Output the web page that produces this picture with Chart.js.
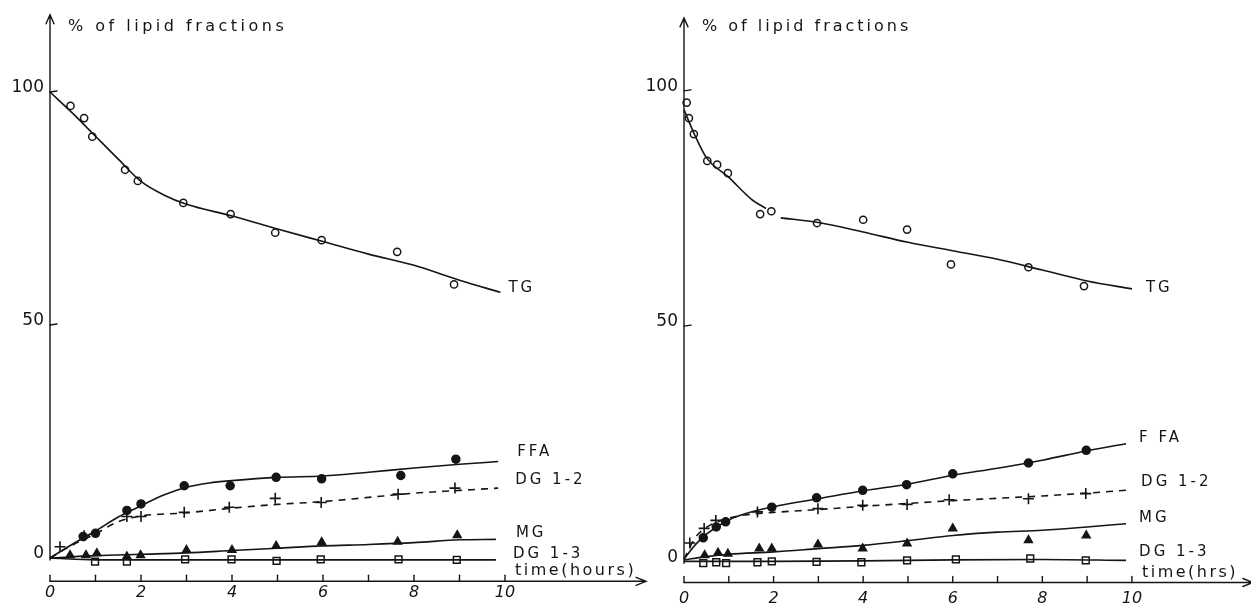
<!DOCTYPE html>
<html>
<head>
<meta charset="utf-8">
<script src="https://cdn.jsdelivr.net/npm/chart.js@4/dist/chart.umd.min.js"></script>
<style>
  html, body { margin:0; padding:0; background:#fff; }
  body { width:1251px; height:608px; position:relative; overflow:hidden; }
  canvas { position:absolute; top:0; }
  #cA { left:0; }
  #cB { left:620px; }
</style>
</head>
<body>
<canvas id="cA" width="660" height="608"></canvas>
<canvas id="cB" width="631" height="608"></canvas>
<script>
// ---------- axis ticks / labels ----------
const HOUR_TICKS  = [0,1,2,3,4,5,6,7,8,9,10];
const HOUR_LABELS = [0,2,4,6,8,10];
const PCT_TICKS   = [0,50,100];

// ---------- LEFT panel (time in hours) ----------
const A_TG_X  = [0.45,0.75,0.93,1.65,1.93,2.93,3.97,4.95,5.97,7.63,8.88];
const A_TG_Y  = [97.0,94.4,90.4,83.3,80.9,76.2,73.8,69.8,68.2,65.7,58.7];
const A_TGc_X = [0,0.5,1,1.5,2,2.5,3,4,5,6,7,8,9,9.9];
const A_TGc_Y = [100,95.4,90.5,85.6,80.8,77.9,75.9,73.4,70.6,67.9,65.2,62.8,59.6,57.0];

const A_FFA_X  = [0.73,1.0,1.69,2.0,2.95,3.96,4.97,5.97,7.71,8.92];
const A_FFA_Y  = [4.6,5.3,10.2,11.6,15.5,15.5,17.3,17.0,17.7,21.2];
const A_FFAc_X = [0,0.5,1,1.5,2,2.5,3,3.5,4,5,6,7,8,9,9.85];
const A_FFAc_Y = [0,3.0,5.8,8.8,11.2,13.5,15.2,16.1,16.6,17.3,17.6,18.4,19.3,20.1,20.7];

const A_D12_X  = [0.22,0.75,1.69,2.0,2.95,3.94,4.95,5.96,7.65,8.9];
const A_D12_Y  = [2.4,4.8,8.9,8.9,9.8,10.9,12.8,11.9,13.7,15.0];
const A_D12c_X = [0,0.5,1,1.5,2,3,4,5,6,7,8,9,9.85];
const A_D12c_Y = [0,2.8,5.2,7.8,9.0,9.7,10.7,11.5,12.1,13.0,13.9,14.5,15.0];

const A_MG_X  = [0.44,0.79,1.03,1.69,1.99,3.0,4.0,4.97,5.97,7.64,8.95];
const A_MG_Y  = [0.6,0.6,1.0,0.3,0.6,1.7,1.7,2.6,3.4,3.5,4.9];
const A_MGc_X = [0,1,2,3,4,5,6,7,8,9,9.8];
const A_MGc_Y = [0,0.5,0.8,1.1,1.6,2.1,2.6,2.9,3.3,3.9,4.0];

const A_D13_X  = [0.99,1.69,2.97,3.99,4.98,5.95,7.66,8.94];
const A_D13_Y  = [-0.8,-0.8,-0.3,-0.3,-0.6,-0.3,-0.3,-0.4];
const A_D13c_X = [0,1,2,4,6,8,9.8];
const A_D13c_Y = [0,-0.4,-0.4,-0.4,-0.4,-0.4,-0.4];

// ---------- RIGHT panel (time in hrs) ----------
const B_TG_X   = [0.06,0.11,0.22,0.52,0.74,0.98,1.70,1.95,2.97,4.0,4.98,5.96,7.69,8.93];
const B_TG_Y   = [97.5,94.2,90.8,85.1,84.3,82.5,73.8,74.4,71.9,72.6,70.5,63.1,62.5,58.5];
const B_TGc1_X = [0,0.25,0.5,1,1.5,1.83];
const B_TGc1_Y = [96,90.4,85.8,81.6,77.0,75.0];
const B_TGc2_X = [2.16,3,4,5,6,7,8,9,10];
const B_TGc2_Y = [73.0,72.0,70.0,67.8,66.0,64.2,61.9,59.6,57.9];

const B_FFA_X  = [0.43,0.72,0.93,1.96,2.96,3.99,4.97,6.0,7.69,8.98];
const B_FFA_Y  = [5.0,7.3,8.4,11.5,13.5,15.1,16.3,18.6,20.9,23.6];
const B_FFAc_X = [0,0.25,0.5,1,1.5,2,3,4,5,6,7,8,9,9.87];
const B_FFAc_Y = [0.5,3.5,5.8,8.8,10.5,11.6,13.3,15.0,16.4,18.3,19.8,21.5,23.5,25.0];

const B_D12_X  = [0.13,0.45,0.71,1.64,2.99,3.99,4.98,5.92,7.69,8.97];
const B_D12_Y  = [3.9,7.0,8.7,10.5,11.2,11.9,12.1,13.1,13.3,14.4];
const B_D12c_X = [0,0.25,0.5,1,1.5,2,3,4,5,6,7,8,9,9.87];
const B_D12c_Y = [0.5,5.0,7.2,9.2,10.0,10.4,11.0,11.7,12.3,12.9,13.4,13.9,14.5,15.1];

const B_MG_X  = [0.46,0.76,0.98,1.68,1.96,2.99,3.99,4.98,6.0,7.69,8.98];
const B_MG_Y  = [1.3,1.8,1.6,2.7,2.7,3.6,2.7,3.8,7.0,4.5,5.5];
const B_MGc_X = [0,0.5,1,2,3,4,5,6,7,8,9,9.87];
const B_MGc_Y = [0.3,1.0,1.5,2.0,2.7,3.4,4.4,5.5,6.2,6.6,7.3,8.0];

const B_D13_X  = [0.43,0.72,0.94,1.64,1.96,2.96,3.96,4.98,6.07,7.73,8.97];
const B_D13_Y  = [-0.4,-0.2,-0.4,-0.2,0,-0.1,-0.2,0.2,0.4,0.6,0.2];
const B_D13c_X = [0,2,4,6,8,9.87];
const B_D13c_Y = [0,0,0.1,0.3,0.4,0.2];

// ---------- helpers ----------
const INK = '#151515';
const FONT = '"DejaVu Sans", sans-serif';
function pts(xs, ys){ return xs.map((x,i)=>({x:x, y:ys[i]})); }
function curve(xs, ys, dashed){
  return { data: pts(xs, ys), borderColor: INK, borderWidth: 1.6, pointRadius: 0,
           tension: 0.4, cubicInterpolationMode: 'monotone', borderDash: dashed ? [7,6] : [],
           fill: false, clip: false };
}
function marks(xs, ys, style){
  const base = { data: pts(xs, ys), showLine: false, clip: false, borderColor: INK, pointBorderWidth: 1.5 };
  if (style === 'open')   return Object.assign(base, { pointStyle:'circle', pointRadius:3.6, pointBackgroundColor:'#fff', pointBorderColor:INK });
  if (style === 'dot')    return Object.assign(base, { pointStyle:'circle', pointRadius:4, pointBackgroundColor:INK, pointBorderColor:INK });
  if (style === 'plus')   return Object.assign(base, { pointStyle:'cross', pointRadius:5.5, pointBackgroundColor:INK, pointBorderColor:INK, pointBorderWidth:1.6 });
  if (style === 'tri')    return Object.assign(base, { pointStyle:'triangle', pointRadius:4.5, pointBackgroundColor:INK, pointBorderColor:INK });
  if (style === 'square') return Object.assign(base, { pointStyle:'rect', pointRadius:4.8, pointBackgroundColor:'#fff', pointBorderColor:INK });
}

function drawText(ctx, txt, x, y, font, spacing, align){
  ctx.save();
  ctx.font = font;
  ctx.letterSpacing = spacing + 'px';
  ctx.textAlign = align || 'left';
  ctx.textBaseline = 'middle';
  ctx.fillStyle = INK;
  ctx.fillText(txt, x, y);
  ctx.restore();
}

const handAxes = {
  id: 'handAxes',
  afterDatasetsDraw(chart, args, o){
    const ctx = chart.ctx, xs = chart.scales.x, ys = chart.scales.y, ca = chart.chartArea;
    const x0 = xs.getPixelForValue(0);
    const yB = ca.bottom;
    ctx.save();
    ctx.strokeStyle = INK; ctx.lineWidth = 1.4; ctx.lineCap = 'round';
    // y axis
    const tip = ca.top + o.tipGap;
    ctx.beginPath();
    ctx.moveTo(x0, ys.getPixelForValue(0) + 2); ctx.lineTo(x0, tip);
    ctx.moveTo(x0 - 4, tip + 9); ctx.lineTo(x0, tip); ctx.lineTo(x0 + 4, tip + 9);
    ctx.stroke();
    PCT_TICKS.forEach(v => {
      const py = ys.getPixelForValue(v);
      if (v > 0) { ctx.beginPath(); ctx.moveTo(x0, py); ctx.lineTo(x0 + 7, py - 1); ctx.stroke(); }
      drawText(ctx, String(v), x0 - 6, py - 4, '17px ' + FONT, 0, 'right');
    });
    // x axis
    const xe = xs.getPixelForValue(o.arrowX);
    ctx.beginPath();
    ctx.moveTo(x0, yB); ctx.lineTo(xe, yB);
    ctx.moveTo(xe - 10, yB - 4); ctx.lineTo(xe, yB); ctx.lineTo(xe - 10, yB + 4);
    ctx.stroke();
    HOUR_TICKS.forEach(v => {
      const px = xs.getPixelForValue(v);
      ctx.beginPath(); ctx.moveTo(px, yB); ctx.lineTo(px, yB - 6); ctx.stroke();
    });
    HOUR_LABELS.forEach(v => {
      drawText(ctx, String(v), xs.getPixelForValue(v), yB + o.labelDrop, 'oblique 16px ' + FONT, 0, 'center');
    });
    ctx.restore();
    // titles
    drawText(ctx, o.title, x0 + 18, 27, '16px ' + FONT, o.titleSpacing, 'left');
    drawText(ctx, o.xTitle, xs.getPixelForValue(10) + 10, yB - 10, '16px ' + FONT, 2.5, 'left');
    // series labels at the end of each fitted curve
    o.series.forEach(s => {
      const els = chart.getDatasetMeta(s.ds).data;
      const last = els[els.length - 1];
      drawText(ctx, s.text, last.x + s.dx, last.y + s.dy, '15px ' + FONT, 3, 'left');
    });
  }
};

function makeChart(id, datasets, scaleX, scaleY, pad, axOpts){
  return new Chart(document.getElementById(id), {
    type: 'line',
    data: { datasets: datasets },
    options: {
      responsive: false, animation: false, events: [],
      layout: { padding: pad },
      scales: {
        x: { type: 'linear', min: scaleX[0], max: scaleX[1], display: false },
        y: { type: 'linear', min: scaleY[0], max: scaleY[1], display: false }
      },
      plugins: { legend: { display: false }, tooltip: { enabled: false }, handAxes: axOpts }
    },
    plugins: [handAxes]
  });
}

// LEFT chart
makeChart('cA', [
  curve(A_TGc_X, A_TGc_Y),          // 0
  curve(A_FFAc_X, A_FFAc_Y),        // 1
  curve(A_D12c_X, A_D12c_Y, true),  // 2
  curve(A_MGc_X, A_MGc_Y),          // 3
  curve(A_D13c_X, A_D13c_Y),        // 4
  marks(A_TG_X, A_TG_Y, 'open'),
  marks(A_FFA_X, A_FFA_Y, 'dot'),
  marks(A_D12_X, A_D12_Y, 'plus'),
  marks(A_MG_X, A_MG_Y, 'tri'),
  marks(A_D13_X, A_D13_Y, 'square')
], [0, 13.2], [-5, 117.2], { left: 50, right: 9.4, top: 11.8, bottom: 26.7 }, {
  title: '% of lipid fractions', titleSpacing: 3.5, xTitle: 'time(hours)', arrowX: 13.1,
  tipGap: 3, labelDrop: 12,
  series: [
    { ds: 0, text: 'TG', dx: 8, dy: -4 },
    { ds: 1, text: 'FFA', dx: 19, dy: -9 },
    { ds: 2, text: 'DG 1-2', dx: 17, dy: -8 },
    { ds: 3, text: 'MG', dx: 20, dy: -6 },
    { ds: 4, text: 'DG 1-3', dx: 17, dy: -6 }
  ]
});

// RIGHT chart
makeChart('cB', [
  curve(B_TGc1_X, B_TGc1_Y),        // 0
  curve(B_TGc2_X, B_TGc2_Y),        // 1
  curve(B_FFAc_X, B_FFAc_Y),        // 2
  curve(B_D12c_X, B_D12c_Y, true),  // 3
  curve(B_MGc_X, B_MGc_Y),          // 4
  curve(B_D13c_X, B_D13c_Y),        // 5
  marks(B_TG_X, B_TG_Y, 'open'),
  marks(B_FFA_X, B_FFA_Y, 'dot'),
  marks(B_D12_X, B_D12_Y, 'plus'),
  marks(B_MG_X, B_MG_Y, 'tri'),
  marks(B_D13_X, B_D13_Y, 'square')
], [0, 12.5], [-4.5, 117.2], { left: 64, right: 2, top: 9.9, bottom: 25.5 }, {
  title: '% of lipid fractions', titleSpacing: 3, xTitle: 'time(hrs)', arrowX: 12.7,
  tipGap: 8, labelDrop: 16,
  series: [
    { ds: 1, text: 'TG', dx: 14, dy: -1 },
    { ds: 2, text: 'F FA', dx: 13, dy: -6 },
    { ds: 3, text: 'DG 1-2', dx: 15, dy: -8 },
    { ds: 4, text: 'MG', dx: 13, dy: -6 },
    { ds: 5, text: 'DG 1-3', dx: 13, dy: -8 }
  ]
});
</script>
</body>
</html>
